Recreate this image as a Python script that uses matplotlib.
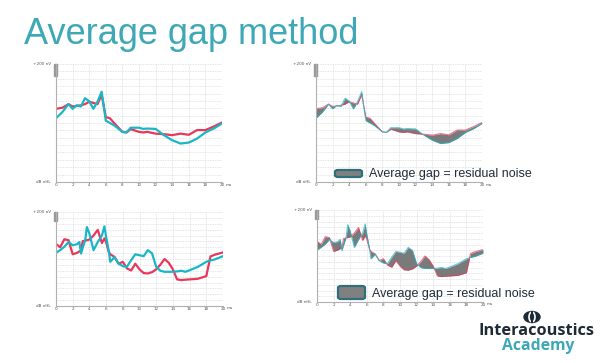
import numpy as np
import matplotlib
matplotlib.use("Agg")
from matplotlib import pyplot as plt
from matplotlib.patches import FancyBboxPatch, Rectangle, Ellipse

# top row traces (ms, relative amplitude 0-100)
x_top = [0, 0.8, 1.5, 2, 2.5, 3, 3.5, 4, 4.5, 5, 5.5, 6, 6.5, 7, 8, 8.5, 9,
         10, 10.5, 11, 12, 13, 14, 15, 16, 17, 18, 19, 20]
red_top = [62, 63, 66, 64, 64.5, 65, 66, 68, 67, 66, 74, 55, 54, 50, 42.5, 42,
           44.8, 42.5, 42, 42.5, 41, 40.5, 39.7, 41, 40, 44, 44, 47, 50.4]
cyan_top = [54, 59.5, 66, 62, 65, 64, 71, 68.5, 62, 68, 76.5, 52, 50, 48, 42.5,
            42, 46, 46, 45, 45.3, 45, 39.7, 35.4, 32.6, 33.4, 36.8, 42, 45.3, 49.6]

# bottom row traces
x_bot = [0, 0.5, 1, 1.5, 2, 2.5, 2.8, 3, 3.2, 3.5, 3.7, 4, 4.5, 5, 5.5, 5.8, 6,
         6.3, 6.5, 7, 7.5, 8, 8.5, 9, 9.5, 10, 10.5, 11, 11.5, 12, 12.5, 13,
         13.5, 14, 14.5, 15, 15.5, 16, 17, 18, 18.5, 19, 20]
red_bot = [66, 62.5, 71, 70, 55, 56.5, 58, 59, 69, 69.5, 70, 70.7, 75, 81, 67,
           72, 68, 58, 55, 52.3, 45, 47, 40, 37.8, 45, 39, 35, 34.6, 36, 39,
           44, 50, 46, 39, 28.3, 27.6, 28, 28.3, 29, 31.8, 52.7, 54.5, 57]
cyan_bot = [56.5, 59.5, 63, 68, 64.6, 65.7, 68, 55.8, 62, 70, 84, 77, 59.4, 68,
            75, 84.8, 73.5, 59.4, 47, 52, 45, 42.4, 41.7, 48.8, 55, 54, 53,
            59.4, 56, 41.7, 37.5, 36.4, 36.4, 36.4, 36.8, 37.5, 36.4, 38, 41.7,
            47, 48.5, 49.5, 53]

x_ticks = [0, 2, 4, 6, 8, 10, 12, 14, 16, 18, 20]
legend_text = "Average gap = residual noise"

RED = "#e8375a"
CYAN = "#19b6c6"
TEAL = "#3fa8b6"

W, H = 603, 363
fig = plt.figure(figsize=(W / 100, H / 100), dpi=100)
fig.patch.set_facecolor("white")


def px_axes(l, t, r, b):
    return fig.add_axes([l / W, 1 - b / H, (r - l) / W, (b - t) / H])


def style(ax):
    ax.set_xlim(0, 20)
    ax.set_ylim(0, 100)
    ax.set_xticks(x_ticks)
    ax.set_xticklabels([str(t) for t in x_ticks], fontsize=3, color="#555555")
    ax.set_yticks(np.arange(0, 101, 6.25), labels=[])
    ax.tick_params(length=0, pad=1)
    ax.set_axisbelow(True)
    ax.grid(True, color="#dcdcdc", linestyle=(0, (1, 1)), linewidth=0.6)
    for s in ["top", "right"]:
        ax.spines[s].set_visible(False)
    for s in ["left", "bottom"]:
        ax.spines[s].set_color("#b0b0b0")
        ax.spines[s].set_linewidth(0.8)
    ax.text(-0.03, 1.0, "+200 nV", transform=ax.transAxes, fontsize=3,
            ha="right", va="center", color="#555555")
    ax.text(-0.03, 0.0, "dB nHL", transform=ax.transAxes, fontsize=3,
            ha="right", va="center", color="#555555")
    ax.text(1.02, -0.005, "ms", transform=ax.transAxes, fontsize=3,
            ha="left", va="top", color="#555555")
    ax.add_patch(Rectangle((-0.012, 0.9), 0.018, 0.1, transform=ax.transAxes,
                           color="#999999", clip_on=False))


ax1 = px_axes(56, 64, 222, 182)
ax2 = px_axes(316, 64, 482, 182)
ax3 = px_axes(56, 212, 223, 306)
ax4 = px_axes(317, 210, 483, 302)
for ax in (ax1, ax2, ax3, ax4):
    style(ax)

ax1.plot(x_top, red_top, color=RED, lw=1.6)
ax1.plot(x_top, cyan_top, color=CYAN, lw=1.6)
ax3.plot(x_bot, red_bot, color=RED, lw=1.6)
ax3.plot(x_bot, cyan_bot, color=CYAN, lw=1.6)

ax2.fill_between(x_top, red_top, cyan_top, color="#7a7a7a", lw=0)
ax2.plot(x_top, red_top, color=RED, lw=0.8, alpha=0.7)
ax2.plot(x_top, cyan_top, color=CYAN, lw=0.8, alpha=0.7)
ax4.fill_between(x_bot, red_bot, cyan_bot, color="#7a7a7a", lw=0)
ax4.plot(x_bot, red_bot, color=RED, lw=0.8, alpha=0.7)
ax4.plot(x_bot, cyan_bot, color=CYAN, lw=0.8, alpha=0.7)

# legend-like boxes
for (l, t, r, b, ty) in [(335, 170, 362, 177, 173.5), (338, 286, 365, 299, 294.5)]:
    box = FancyBboxPatch((l / W, 1 - b / H), (r - l) / W, (b - t) / H,
                         boxstyle="round,pad=0,rounding_size=0.005",
                         transform=fig.transFigure, facecolor="#808080",
                         edgecolor="#2f6f7c", lw=1.6)
    fig.patches.append(box)
    fig.text((r + 7) / W, 1 - ty / H, legend_text, fontsize=9,
             family="Liberation Sans", color="#1f2d3a", va="center")

# title
fig.text(24 / W, 1 - 34 / H, "Average gap method", fontsize=26,
         family="Liberation Sans", color=TEAL, va="center")

# logo
logo = fig.add_axes([0, 0, 1, 1], facecolor="none")
logo.set_xlim(0, W)
logo.set_ylim(H, 0)
logo.axis("off")
logo.add_patch(Ellipse((532, 317), 16, 11, color="#1e2a35"))
logo.add_patch(Ellipse((532, 317), 6, 10, fill=False, edgecolor="white", lw=1.2))
logo.plot([532, 532], [312, 322], color="#1e2a35", lw=1.5)
logo.text(537, 331, "Interacoustics", fontsize=11.8, fontweight="bold",
          family="Open Sans", color="#1e2a35", ha="center", va="center")
logo.text(538, 346, "Academy", fontsize=11.3, fontweight="bold",
          family="Open Sans", color=TEAL, ha="center", va="center")

fig.savefig("out.png", dpi=100)
